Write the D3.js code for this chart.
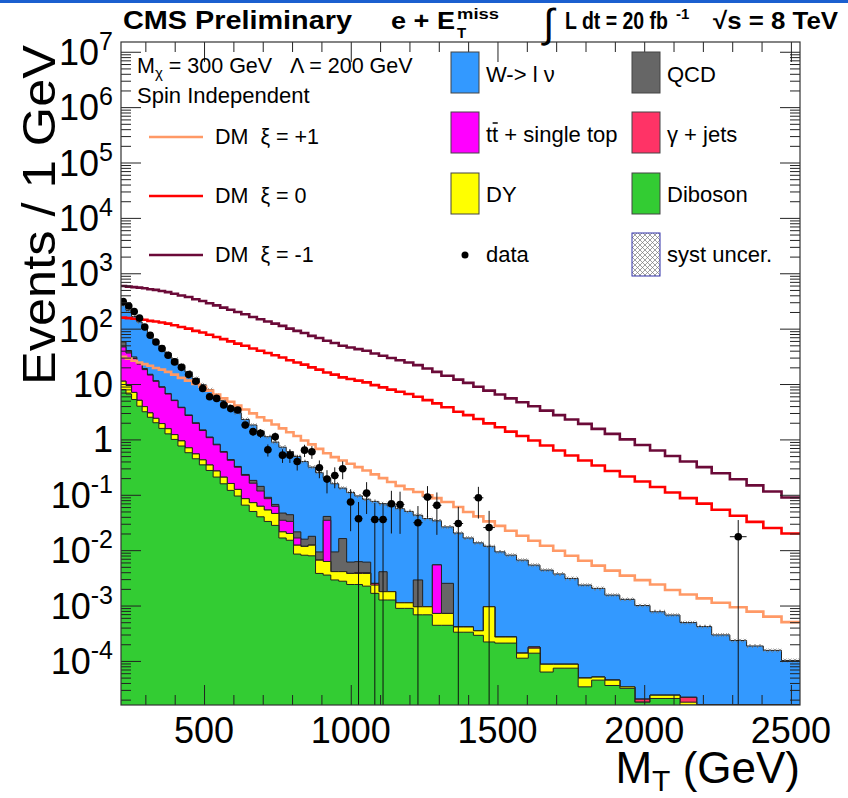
<!DOCTYPE html>
<html>
<head>
<meta charset="utf-8">
<script src="https://cdn.jsdelivr.net/npm/d3@7"></script>
<style>
  body { margin: 0; background: #fff; }
  text { font-family: "Liberation Sans", Arial, Helvetica, sans-serif; fill: #000; }
  .hdr { font-family: "Liberation Sans Narrow", "Liberation Sans", Arial, sans-serif; font-weight: bold; }
  .pre { white-space: pre; }
</style>
</head>
<body>
<div id="container"></div>
<script>
// bin edges of the M_T histogram (GeV)
const binEdges = [215, 234, 253, 271, 289, 307, 326, 346, 367, 388, 411, 435, 460, 484, 507, 531, 555, 579, 603, 627,
  654, 680, 705, 730, 755, 780, 805, 830, 855, 880, 906, 932, 959, 986, 1013, 1040, 1068, 1096, 1124, 1153,
  1183, 1213, 1245, 1278, 1309, 1350, 1383, 1418, 1452, 1491, 1526, 1565, 1605, 1645, 1690, 1730, 1775, 1821, 1866, 1917,
  1968, 2020, 2071, 2122, 2179, 2230, 2292, 2349, 2406, 2468, 2531];

// backgrounds, events / 1 GeV
const diboson = [7.94, 6.61, 5.25, 3.98, 3.16, 2.51, 2.0, 1.58, 1.26, 1.0,
  0.76, 0.575, 0.447, 0.347, 0.275, 0.209, 0.158, 0.12, 0.095, 0.065,
  0.05, 0.04, 0.033, 0.028, 0.0166, 0.0151, 0.0085, 0.0081, 0.0079, 0.0038,
  0.00355, 0.0029, 0.00275, 0.0024, 0.0024, 0.00224, 0.00166, 0.00126, 0.00126, 0.00089,
  0.00089, 0.00068, 0.00068, 0.00044, 0.00044, 0.00033, 0.00033, 0.00029, 0.00022, 0.00021,
  0.00021, 0.000112, 0.000138, 0.000063, 0.000074, 0.000074, 0.000034, 0.000045, 0.000036, 0.000032,
  0.000018, 0.000021, 0.000021, 0, 0, 0, 0, 0, 0, 0];
const dy = [3.3, 2.8, 1.8, 1.1, 0.75, 0.5, 0.4, 0.35, 0.3, 0.22,
  0.18, 0.13, 0.1, 0.08, 0.07, 0.06, 0.05, 0.04, 0.03, 0.02,
  0.022, 0.022, 0.02, 0.018, 0.0048, 0.0049, 0.0038, 0.0036, 0.0044, 0.0028,
  0.0027, 0.0012, 0.00135, 0.0014, 0.0014, 0.00156, 0.00068, 0.00052, 0.00052, 0.00023,
  0.00023, 0.00027, 0.00027, 0.00028, 0.00028, 0.00008, 0.00008, 0.00006, 0.00073, 0.00006,
  0.00006, 0.000026, 0.000032, 0.000024, 0.000013, 0.000013, 0.000015, 0.000006, 0.000009, 0.000002,
  0, 0.000003, 0.000003, 0.000018, 0, 0, 0, 0, 0, 0];
const gjets = [0, 0, 0, 0, 0, 0, 0, 0, 0, 0,
  0, 0, 0, 0, 0, 0, 0, 0, 0, 0,
  0, 0, 0, 0, 0, 0, 0, 0, 0, 0,
  0, 0, 0, 0, 0.0001, 0.00008, 0.00017, 0, 0, 0,
  0, 0, 0, 0, 0, 0, 0, 0, 0, 0,
  0, 0, 0.000008, 0, 0, 0, 0, 0, 0, 0,
  0.0000024, 0, 0, 0.000004, 0, 0, 0, 0, 0, 0];
const ttbar = [35.5, 26.9, 21.8, 17.8, 14.3, 11.5, 8.8, 6.8, 5.05, 3.8,
  2.8, 2.0, 1.4, 1.02, 0.73, 0.53, 0.38, 0.26, 0.19, 0.14,
  0.09, 0.055, 0.032, 0.016, 0.0133, 0.0131, 0.0043, 0, 0, 0,
  0.0284, 0, 0, 0, 0, 0, 0, 0, 0, 0,
  0, 0, 0, 0.0047, 0, 0, 0, 0, 0, 0,
  0, 0, 0, 0, 0, 0, 0, 0, 0, 0,
  0, 0, 0, 0, 0, 0, 0, 0, 0, 0];
const qcd = [10.7, 4, 2, 1.2, 0.8, 0.5, 0.3, 0.2, 0.15, 0.1,
  0.07, 0.06, 0.05, 0.04, 0.03, 0.02, 0.015, 0.012, 0.01, 0.008,
  0.02, 0.025, 0.005, 0.005, 0.0121, 0.0106, 0.0048, 0.0041, 0.0055, 0.0027,
  0.006, 0.0052, 0.0121, 0.0023, 0.0023, 0.0022, 0, 0.0023, 0, 0,
  0, 0.00195, 0, 0, 0.0018, 0, 0, 0, 0, 0,
  0, 0, 0, 0, 0, 0, 0, 0, 0, 0,
  0, 0, 0, 0, 0, 0, 0, 0, 0, 0];
const wlnu = [206, 174, 135, 108, 81, 64.4, 48.8, 37.9, 29.5, 23.1,
  18.1, 13.8, 10.6, 8.28, 6.84, 5.49, 4.41, 3.55, 2.7, 2.06,
  1.64, 1.27, 1.03, 0.824, 0.677, 0.559, 0.469, 0.382, 0.298, 0.242,
  0.159, 0.149, 0.116, 0.104, 0.0893, 0.0771, 0.0734, 0.0651, 0.0613, 0.0551,
  0.049, 0.0398, 0.0363, 0.0285, 0.0238, 0.02, 0.0162, 0.0132, 0.0108, 0.00906,
  0.00786, 0.00647, 0.00519, 0.00428, 0.00363, 0.003, 0.00229, 0.00199, 0.0015, 0.00126,
  0.00098, 0.00075, 0.00065, 0.00047, 0.000417, 0.000295, 0.000234, 0.000186, 0.000155, 0.000102];
const systFraction = 0.08;

// dark matter signals
const dmPlus = [30.9, 28.8, 26.3, 24.5, 22.9, 21.4, 19.5, 18.2, 16.6, 14.8,
  12.9, 11.5, 10.0, 8.91, 7.59, 6.46, 5.5, 4.79, 4.07, 3.47,
  2.95, 2.51, 2.19, 1.86, 1.58, 1.35, 1.15, 0.955, 0.813, 0.676,
  0.562, 0.479, 0.417, 0.363, 0.316, 0.275, 0.234, 0.2, 0.17, 0.145,
  0.126, 0.112, 0.0977, 0.0871, 0.0741, 0.0603, 0.049, 0.0407, 0.0331, 0.0275,
  0.0224, 0.0182, 0.0148, 0.012, 0.00977, 0.00794, 0.00646, 0.00525, 0.00427, 0.00347,
  0.00288, 0.0024, 0.00191, 0.00158, 0.00135, 0.00112, 0.000933, 0.000776, 0.000631, 0.000501];
const dmZero = [158, 155, 151, 148, 145, 138, 135, 129, 123, 115,
  107, 100, 91.2, 85.1, 77.6, 70.8, 64.6, 58.9, 53.7, 49.0,
  43.7, 39.8, 36.3, 33.1, 30.2, 26.9, 24.5, 22.4, 20.0, 18.2,
  16.2, 14.8, 13.2, 12.3, 11.5, 10.7, 9.55, 8.71, 7.94, 7.24,
  6.61, 5.89, 5.13, 4.47, 3.8, 3.16, 2.75, 2.34, 1.95, 1.66,
  1.38, 1.15, 0.955, 0.776, 0.631, 0.513, 0.417, 0.339, 0.269, 0.214,
  0.174, 0.138, 0.11, 0.0871, 0.0692, 0.0537, 0.0417, 0.0324, 0.0251, 0.02];
const dmMinus = [589, 575, 562, 550, 537, 513, 501, 479, 457, 427,
  398, 372, 339, 316, 288, 263, 240, 219, 200, 182,
  162, 148, 135, 123, 112, 100, 91.2, 83.2, 74.1, 67.6,
  60.3, 55.0, 49.0, 45.7, 42.7, 39.8, 35.5, 32.4, 29.5, 26.9,
  24.5, 21.9, 19.1, 16.6, 14.1, 12.0, 10.5, 8.91, 7.59, 6.46,
  5.5, 4.68, 3.98, 3.31, 2.75, 2.29, 1.91, 1.55, 1.26, 1.0,
  0.794, 0.631, 0.501, 0.398, 0.316, 0.245, 0.191, 0.148, 0.115, 0.0891];

// observed data and its error
const dataVal = [309, 257, 204, 155, 107, 76, 57.5, 43.7, 33.1, 25.1,
  20, 14.8, 11.2, 8.3, 5.9, 5.5, 4.2, 3.6, 3.4, 1.82,
  1.38, 1.29, 0.65, 1.12, 0.52, 0.52, 0.4, 0.64, 0.6, 0.308,
  0.192, 0.222, 0.296, 0.074, 0.037, 0.107, 0.0357, 0.0357, 0.069, 0.0667,
  null, 0.0313, 0.0909, 0.0645, null, 0.0303, null, 0.0882, 0.0256, null,
  null, null, null, null, null, null, null, null, null, null,
  null, null, null, null, null, null, 0.0175, null, null, null];
const dataErr = [4.0, 3.7, 3.4, 2.9, 2.4, 2.0, 1.7, 1.44, 1.26, 1.04,
  0.91, 0.77, 0.68, 0.6, 0.5, 0.48, 0.42, 0.39, 0.38, 0.26,
  0.23, 0.23, 0.16, 0.21, 0.144, 0.144, 0.126, 0.16, 0.155, 0.109,
  0.086, 0.091, 0.105, 0.052, 0.037, 0.062, 0.0357, 0.0357, 0.049, 0.047,
  null, 0.0313, 0.0525, 0.0456, null, 0.0303, null, 0.051, 0.0256, null,
  null, null, null, null, null, null, null, null, null, null,
  null, null, null, null, null, null, 0.0175, null, null, null];

const xTicks = [500, 1000, 1500, 2000, 2500];
const yExponents = [-4, -3, -2, -1, 0, 1, 2, 3, 4, 5, 6, 7];

const bkgKeys = ['diboson', 'dy', 'gjets', 'ttbar', 'qcd', 'wlnu'];
const bkgColor = { diboson: '#33cc33', dy: '#ffff00', gjets: '#ff3366', ttbar: '#ff00ff', qcd: '#666666', wlnu: '#3399ff' };

const WIDTH = 848, HEIGHT = 798;
const X0 = 121, X1 = 800, Y0 = 42, Y1 = 705;

let svg = d3.select('#container').append('svg').attr('width', WIDTH).attr('height', HEIGHT);
svg.append('rect').attr('width', WIDTH).attr('height', HEIGHT).attr('fill', '#fff');
svg.append('rect').attr('width', WIDTH).attr('height', 3).attr('fill', '#1b5fcf');

let defs = svg.append('defs');
defs.append('clipPath').attr('id', 'plot').append('rect')
  .attr('x', X0).attr('y', Y0).attr('width', X1 - X0).attr('height', Y1 - Y0);
let hatch = defs.append('pattern').attr('id', 'hatch').attr('patternUnits', 'userSpaceOnUse')
  .attr('width', 5).attr('height', 5);
hatch.append('path').attr('d', 'M0,0 L5,5 M5,0 L0,5').attr('stroke', '#777').attr('stroke-width', 0.7);

let x = d3.scaleLinear().domain([217, 2531]).range([X0, X1]);
let y = d3.scaleLog().domain([1.6e-5, 1.5e7]).range([Y1, Y0]).clamp(true);
let yv = (v) => y(v > 0 ? v : 1e-9);

// step points: one per edge, last one repeats final bin value
let steps = (arr) => binEdges.map((e, i) => [e, arr[Math.min(i, arr.length - 1)]]);
let stepLine = d3.line().x((d) => x(d[0])).y((d) => yv(d[1])).curve(d3.curveStepAfter);
let stepArea = d3.area().x((d) => x(d[0])).y0(Y1 + 2).y1((d) => yv(d[1])).curve(d3.curveStepAfter);

let table = wlnu.map((_, i) => ({ diboson: diboson[i], dy: dy[i], gjets: gjets[i], ttbar: ttbar[i], qcd: qcd[i], wlnu: wlnu[i] }));
let series = d3.stack().keys(bkgKeys)(table);

let plot = svg.append('g').attr('clip-path', 'url(#plot)');

// stacked histograms: largest cumulative first
series.slice().reverse().forEach((s) => {
  let tops = steps(s.map((d) => d[1]));
  plot.append('path').attr('d', stepArea(tops)).attr('fill', bkgColor[s.key]);
  plot.append('path').attr('d', stepLine(tops)).attr('fill', 'none').attr('stroke', '#222').attr('stroke-width', 1);
});

// syst band around the total
let total = series[series.length - 1].map((d) => d[1]);
let bandArea = d3.area().x((d) => x(d[0])).y0((d) => yv(d[1] * (1 - systFraction))).y1((d) => yv(d[1] * (1 + systFraction))).curve(d3.curveStepAfter);
plot.append('path').attr('d', bandArea(steps(total))).attr('fill', 'url(#hatch)');

// signal lines
[[dmPlus, '#ff9966'], [dmZero, '#ff0000'], [dmMinus, '#6b0a38']].forEach(([arr, col]) => {
  plot.append('path').attr('d', stepLine(steps(arr))).attr('fill', 'none').attr('stroke', col).attr('stroke-width', 2.6);
});

// data points
let pts = dataVal.map((v, i) => ({ v, e: dataErr[i], lo: binEdges[i], hi: binEdges[i + 1] })).filter((d) => d.v !== null);
let dataG = plot.append('g');
dataG.selectAll('line.v').data(pts).join('line').attr('class', 'v')
  .attr('x1', (d) => x((d.lo + d.hi) / 2)).attr('x2', (d) => x((d.lo + d.hi) / 2))
  .attr('y1', (d) => yv(d.v + d.e)).attr('y2', (d) => yv(d.v - d.e))
  .attr('stroke', '#111').attr('stroke-width', 1);
dataG.selectAll('line.h').data(pts).join('line').attr('class', 'h')
  .attr('x1', (d) => x(d.lo)).attr('x2', (d) => x(d.hi))
  .attr('y1', (d) => y(d.v)).attr('y2', (d) => y(d.v))
  .attr('stroke', '#111').attr('stroke-width', 1);
dataG.selectAll('circle').data(pts).join('circle')
  .attr('cx', (d) => x((d.lo + d.hi) / 2)).attr('cy', (d) => y(d.v)).attr('r', 3.8).attr('fill', '#000');

// axes (ticks point inwards, ROOT style)
let minorX = d3.range(300, 2600, 100).filter((v) => !xTicks.includes(v));
let minorY = [];
for (let e = -5; e <= 7; e++) for (let k = 2; k <= 9; k++) minorY.push(k * Math.pow(10, e));
minorY = minorY.filter((v) => v > 1.6e-5 && v < 1.5e7);
let majorY = yExponents.map((e) => Math.pow(10, e));

let addAxis = (axis, tf) => {
  let g = svg.append('g').attr('transform', tf).call(axis);
  g.select('.domain').remove();
  g.selectAll('text').remove();
  g.selectAll('line').attr('stroke', '#222').attr('stroke-width', 1);
};
addAxis(d3.axisBottom(x).tickValues(xTicks).tickSize(-20), `translate(0,${Y1})`);
addAxis(d3.axisBottom(x).tickValues(minorX).tickSize(-10), `translate(0,${Y1})`);
addAxis(d3.axisTop(x).tickValues(xTicks).tickSize(-20), `translate(0,${Y0})`);
addAxis(d3.axisTop(x).tickValues(minorX).tickSize(-10), `translate(0,${Y0})`);
addAxis(d3.axisLeft(y).tickValues(majorY).tickSize(-20), `translate(${X0},0)`);
addAxis(d3.axisLeft(y).tickValues(minorY).tickSize(-10), `translate(${X0},0)`);
addAxis(d3.axisRight(y).tickValues(majorY).tickSize(-20), `translate(${X1},0)`);
addAxis(d3.axisRight(y).tickValues(minorY).tickSize(-10), `translate(${X1},0)`);

svg.append('rect').attr('x', X0).attr('y', Y0).attr('width', X1 - X0).attr('height', Y1 - Y0)
  .attr('fill', 'none').attr('stroke', '#333').attr('stroke-width', 1.2);

// tick labels
svg.append('g').selectAll('text').data(xTicks).join('text')
  .attr('x', (d) => x(d)).attr('y', 743).attr('text-anchor', 'middle').attr('font-size', 36).text((d) => d);

let yl = svg.append('g').selectAll('text').data(yExponents).join('text')
  .attr('x', 113).attr('y', (d) => y(Math.pow(10, d)) + 13).attr('text-anchor', 'end').attr('font-size', 36);
yl.each(function (d) {
  let t = d3.select(this);
  if (d === 0) t.text('1');
  else if (d === 1) t.text('10');
  else {
    t.append('tspan').text('10');
    t.append('tspan').attr('font-size', 25).attr('dy', -15).text(d);
  }
});

// axis titles
svg.append('text').attr('transform', 'translate(55,45) rotate(-90)').attr('text-anchor', 'end')
  .attr('font-size', 47).attr('textLength', 340).attr('lengthAdjust', 'spacingAndGlyphs').text('Events / 1 GeV');
let xt = svg.append('text').attr('class', 'pre').attr('x', 800).attr('y', 783).attr('text-anchor', 'end').attr('font-size', 44);
xt.append('tspan').text('M');
xt.append('tspan').attr('font-size', 30).attr('dy', 8).text('T');
xt.append('tspan').attr('dy', -8).text(' (GeV)');

// header
svg.append('text').attr('class', 'hdr').attr('x', 123).attr('y', 29).attr('font-size', 26)
  .attr('textLength', 229).attr('lengthAdjust', 'spacingAndGlyphs').text('CMS Preliminary');
svg.append('text').attr('class', 'hdr pre').attr('x', 391).attr('y', 29).attr('font-size', 24)
  .attr('textLength', 64).attr('lengthAdjust', 'spacingAndGlyphs').text('e + E');
svg.append('text').attr('class', 'hdr').attr('x', 457).attr('y', 38).attr('font-size', 15).text('T');
svg.append('text').attr('class', 'hdr').attr('x', 457).attr('y', 19).attr('font-size', 15)
  .attr('textLength', 42).attr('lengthAdjust', 'spacingAndGlyphs').text('miss');
svg.append('text').attr('x', 543).attr('y', 37).attr('font-size', 40).text('\u222B');
svg.append('text').attr('class', 'hdr pre').attr('x', 565).attr('y', 29).attr('font-size', 24)
  .attr('textLength', 103).attr('lengthAdjust', 'spacingAndGlyphs').text('L dt = 20 fb');
svg.append('text').attr('class', 'hdr').attr('x', 676).attr('y', 19).attr('font-size', 15).text('-1');
svg.append('text').attr('class', 'hdr pre').attr('x', 713).attr('y', 29).attr('font-size', 24)
  .attr('textLength', 125).attr('lengthAdjust', 'spacingAndGlyphs').text('\u221As = 8 TeV');

// left text block
let m = svg.append('text').attr('class', 'pre').attr('x', 137).attr('y', 73).attr('font-size', 21.5);
m.append('tspan').text('M');
m.append('tspan').attr('font-size', 15).attr('dy', 5).text('\u03C7');
m.append('tspan').attr('dy', -5).text(' = 300 GeV   \u039B = 200 GeV');
svg.append('text').attr('x', 137).attr('y', 103).attr('font-size', 22).text('Spin Independent');

let dmLegend = [['DM  \u03BE = +1', '#ff9966', 137], ['DM  \u03BE = 0', '#ff0000', 196], ['DM  \u03BE = -1', '#6b0a38', 255]];
dmLegend.forEach(([lab, col, ly]) => {
  svg.append('line').attr('x1', 149).attr('x2', 203).attr('y1', ly).attr('y2', ly).attr('stroke', col).attr('stroke-width', 2.6);
  svg.append('text').attr('class', 'pre').attr('x', 215).attr('y', ly + 7).attr('font-size', 21.5).text(lab);
});

// right legend
let legendRows = [
  ['wlnu', 451, 52], ['ttbar', 451, 112], ['dy', 451, 173],
  ['qcd', 632, 52], ['gjets', 632, 112], ['diboson', 632, 173]
];
legendRows.forEach(([k, lx, ly]) => {
  svg.append('rect').attr('x', lx).attr('y', ly).attr('width', 28).attr('height', 41)
    .attr('fill', bkgColor[k]).attr('stroke', '#444').attr('stroke-width', 1);
});
let lt = (lx, ly, s) => svg.append('text').attr('class', 'pre').attr('x', lx).attr('y', ly).attr('font-size', 22).text(s);
lt(486, 82, 'W-> l \u03BD');
let tt = lt(486, 142, 'tt + single top');
let t1 = tt.node().getSubStringLength(0, 1);
let t2 = tt.node().getSubStringLength(0, 2);
svg.append('line').attr('x1', 486 + t1 + 0.5).attr('x2', 486 + t2 - 0.5).attr('y1', 123).attr('y2', 123)
  .attr('stroke', '#000').attr('stroke-width', 1.5);
lt(486, 202, 'DY');
svg.append('circle').attr('cx', 465).attr('cy', 255).attr('r', 3.5).attr('fill', '#000');
lt(486, 262, 'data');
lt(667, 82, 'QCD');
lt(667, 142, '\u03B3 + jets');
lt(667, 202, 'Diboson');
svg.append('rect').attr('x', 632).attr('y', 233).attr('width', 28).attr('height', 43)
  .attr('fill', 'url(#hatch)').attr('stroke', '#3333aa').attr('stroke-width', 1);
lt(667, 262, 'syst uncer.');
</script>
</body>
</html>
